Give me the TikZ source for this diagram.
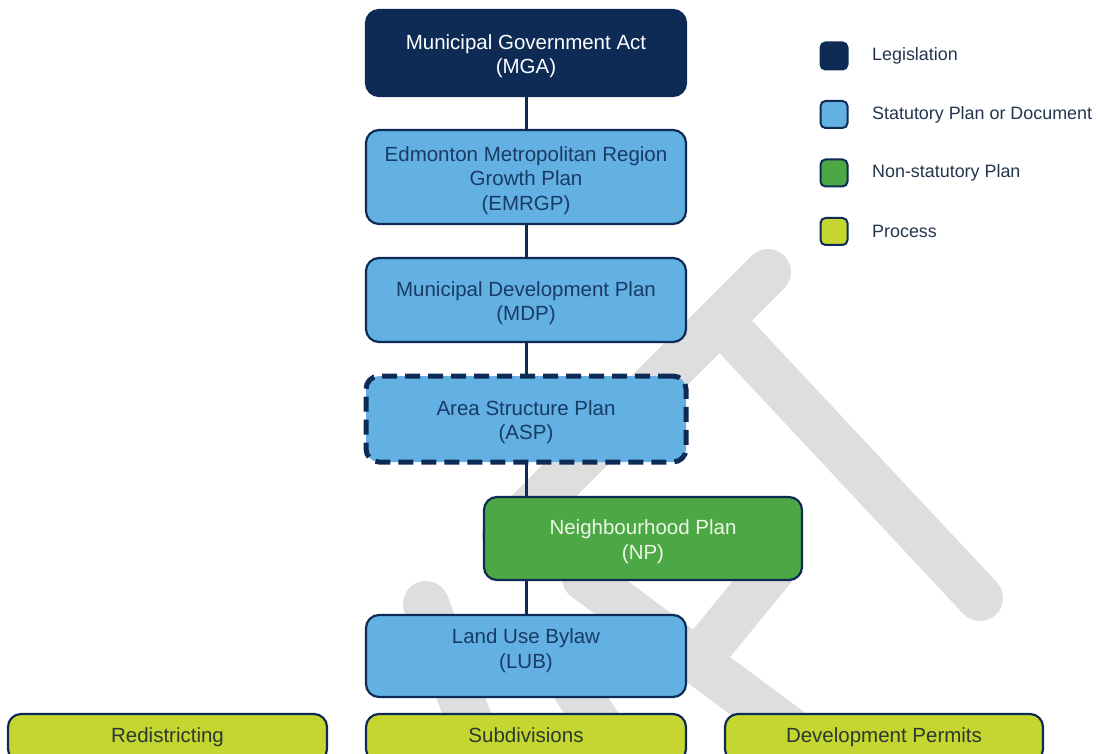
\documentclass[tikz,border=0pt]{standalone}
\usepackage{fontspec}
\setmainfont{Liberation Sans}
\definecolor{navy}{HTML}{0D2B55}
\definecolor{lblue}{HTML}{63B0E3}
\definecolor{pgreen}{HTML}{4BA845}
\definecolor{lime}{HTML}{C4D62F}
\definecolor{wm}{HTML}{DEDEDE}
\definecolor{txtblue}{HTML}{1A3A66}
\definecolor{legtxt}{HTML}{23344F}
\definecolor{limetxt}{HTML}{2A3A30}
\definecolor{nptxt}{HTML}{EEF6E8}
\newcommand{\dn}{\rule{0pt}{21.5pt}}
\newcommand{\upl}{\rule[-14.5pt]{0pt}{0pt}}
\begin{document}
\begin{tikzpicture}[x=1pt,y=-1pt,
  box/.style={draw=navy, line width=2.2pt, rounded corners=13pt, minimum width=320pt,
    align=center, inner sep=0pt, font=\fontsize{20.5}{24.5}\selectfont, text=txtblue, fill=lblue},
  procbox/.style={box, fill=lime, text=limetxt, minimum height=48pt, execute at begin node=\strut},
  legbox/.style={draw=navy, line width=2pt, rounded corners=5pt, minimum size=27pt, inner sep=0pt},
  legtext/.style={anchor=west, inner sep=0pt, font=\fontsize{17.9}{21}\selectfont, text=legtxt},
  conn/.style={draw=navy, line width=3pt},
  wmark/.style={draw=wm, line width=46pt, line cap=round}]
\useasboundingbox (0,0) rectangle (1098,754);
\clip (0,0) rectangle (1098,754);
% watermark
\draw[wmark] (768,272) -- (505,535);
\draw[wmark] (720,320) -- (980,598);
\draw[wmark] (706,650) -- (775,566);
\draw[wmark] (585,578) -- (810,745);
\draw[wmark] (426,604) -- (495,790);
\draw[wmark] (570,680) -- (640,790);
% main boxes
\node[box, fill=navy, text=white, minimum height=86pt] (mga) at (526,53) {\dn Municipal Government Act\\(MGA)};
\node[box, minimum height=94pt] (emrgp) at (526,177) {\dn Edmonton Metropolitan Region\\Growth Plan\\(EMRGP)};
\node[box, minimum height=84pt] (mdp) at (526,300) {\dn Municipal Development Plan\\(MDP)};
\node[box, line width=5pt, dash pattern=on 15pt off 8pt, minimum height=86pt] (asp) at (526,419) {\dn Area Structure Plan\\(ASP)};
\node[box, fill=pgreen, text=nptxt, minimum width=318pt, minimum height=83pt] (np) at (643,538.5) {\dn Neighbourhood Plan\\(NP)};
\node[box, minimum height=82pt] (lub) at (526,656) {Land Use Bylaw\\(LUB)\upl};
% process boxes
\node[procbox, minimum width=319pt] (redis) at (167.5,738) {Redistricting};
\node[procbox] (subdiv) at (526,738) {Subdivisions};
\node[procbox, minimum width=318pt] (devp) at (884,738) {Development Permits};
% connectors
\draw[conn] (mga.south) -- (emrgp.north);
\draw[conn] (emrgp.south) -- (mdp.north);
\draw[conn] (mdp.south) -- ([yshift=-1pt]asp.north);
\draw[conn] ([yshift=1.5pt]asp.south) -- (asp.south |- np.north);
\draw[conn] (np.south -| lub.north) -- (lub.north);
% legend
\node[legbox, fill=navy] (l1) at (834,56) {};
\node[legbox, fill=lblue] (l2) at (834,114.5) {};
\node[legbox, fill=pgreen] (l3) at (834,173) {};
\node[legbox, fill=lime] (l4) at (834,231.5) {};
\node[legtext] (t1) at (872,56) {Legislation};
\node[legtext] (t2) at (872,114.5) {Statutory Plan or Document};
\node[legtext] (t3) at (872,173) {Non-statutory Plan};
\node[legtext] (t4) at (872,231.5) {Process};
\end{tikzpicture}
\end{document}
